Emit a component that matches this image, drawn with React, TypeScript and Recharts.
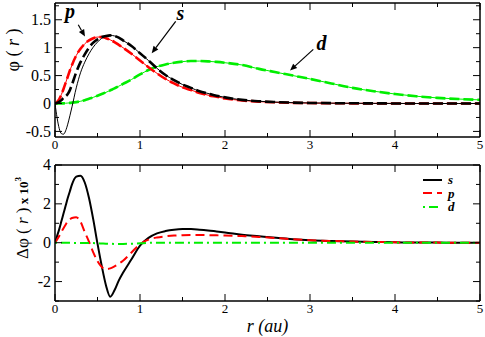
import React from 'react';
import { LineChart, Line, XAxis, YAxis, ReferenceLine, ReferenceDot, Legend } from 'recharts';

// radial grid (au)
const r = [
  0, 0.025, 0.05, 0.075, 0.1, 0.125, 0.15, 0.175, 0.2, 0.25, 0.3, 0.35, 0.4, 0.45, 0.5, 0.55,
  0.6, 0.65, 0.7, 0.75, 0.8, 0.9, 1.0, 1.1, 1.2, 1.3, 1.4, 1.5, 1.6, 1.7, 1.8, 1.9, 2.0, 2.2,
  2.4, 2.6, 2.8, 3.0, 3.25, 3.5, 3.75, 4.0, 4.25, 4.5, 4.75, 5.0,
];

// top panel: phi(r), all-electron (thin) and pseudo (thick dashed)
const sAE = [
  0, -0.26, -0.45, -0.54, -0.55, -0.49, -0.37, -0.22, -0.06, 0.28, 0.55, 0.74, 0.89, 1.01, 1.1, 1.17,
  1.21, 1.22, 1.21, 1.18, 1.13, 1.03, 0.9, 0.77, 0.63, 0.51, 0.42, 0.34, 0.28, 0.22, 0.18, 0.14, 0.11, 0.065,
  0.04, 0.025, 0.015, 0.01, 0.006, 0.004, 0.002, 0.001, 0, 0, 0, 0,
];
const sPS = [
  0, 0.01, 0.03, 0.06, 0.1, 0.13, 0.17, 0.24, 0.34, 0.56, 0.74, 0.88, 1.0, 1.09, 1.15, 1.19,
  1.21, 1.22, 1.21, 1.18, 1.13, 1.03, 0.9, 0.77, 0.63, 0.51, 0.42, 0.34, 0.28, 0.22, 0.18, 0.14, 0.11, 0.065,
  0.04, 0.025, 0.015, 0.01, 0.006, 0.004, 0.002, 0.001, 0, 0, 0, 0,
];
const pAE = [
  0, 0.03, 0.08, 0.16, 0.26, 0.37, 0.48, 0.59, 0.69, 0.86, 0.98, 1.07, 1.13, 1.17, 1.19, 1.19,
  1.17, 1.14, 1.1, 1.05, 1.0, 0.89, 0.77, 0.65, 0.54, 0.44, 0.36, 0.29, 0.24, 0.19, 0.15, 0.12, 0.09, 0.055,
  0.033, 0.02, 0.012, 0.008, 0.005, 0.003, 0.002, 0.001, 0, 0, 0, 0,
];
const pPS = pAE;
const dAE = [
  0, 0, 0.001, 0.002, 0.003, 0.005, 0.008, 0.011, 0.015, 0.025, 0.04, 0.06, 0.085, 0.11, 0.14, 0.17,
  0.2, 0.235, 0.27, 0.31, 0.35, 0.43, 0.52, 0.6, 0.66, 0.7, 0.73, 0.75, 0.76, 0.76, 0.755, 0.745, 0.73, 0.69,
  0.62, 0.56, 0.5, 0.44, 0.36, 0.28, 0.22, 0.17, 0.13, 0.1, 0.08, 0.065,
];
const dPS = dAE;

// bottom panel: delta phi(r) x 10^3
const dS = [
  0, 0.35, 0.7, 1.1, 1.5, 1.9, 2.3, 2.65, 3.0, 3.4, 3.45, 3.1, 2.3, 1.2, -0.05, -1.2,
  -2.2, -2.78, -2.45, -1.95, -1.55, -0.85, -0.15, 0.25, 0.48, 0.6, 0.67, 0.7, 0.7, 0.67, 0.63, 0.58, 0.53, 0.41,
  0.33, 0.25, 0.18, 0.13, 0.09, 0.06, 0.04, 0.02, 0.01, 0.005, 0, 0,
];
const dP = [
  0, 0.17, 0.35, 0.55, 0.75, 0.93, 1.1, 1.2, 1.27, 1.31, 1.08, 0.55, 0.05, -0.5, -0.95, -1.25,
  -1.36, -1.32, -1.22, -1.08, -0.93, -0.5, -0.07, 0.16, 0.27, 0.33, 0.37, 0.39, 0.4, 0.4, 0.39, 0.38, 0.37, 0.34,
  0.3, 0.24, 0.18, 0.13, 0.09, 0.06, 0.04, 0.02, 0.01, 0.005, 0, 0,
];
const dD = [
  0, 0, 0, 0, 0, 0, -0.005, -0.005, -0.01, -0.01, -0.01, -0.01, -0.01, -0.02, -0.03, -0.04,
  -0.05, -0.055, -0.06, -0.06, -0.06, -0.05, -0.03, -0.01, 0, 0, 0, 0, 0, 0, 0, 0, 0, 0,
  0, 0, 0, 0, 0, 0, 0, 0, 0, 0, 0, 0,
];

const legendOrder = ['s', 'p', 'd'];
const xTicks = [0, 0.5, 1, 1.5, 2, 2.5, 3, 3.5, 4, 4.5, 5];
const topYTicks = [-0.5, -0.25, 0, 0.25, 0.5, 0.75, 1, 1.25, 1.5, 1.75];
const botYTicks = [-3, -2, -1, 0, 1, 2, 3, 4];

// arrow annotations in data units
const notes = [
  { label: 'p', at: { x: 0.176, y: 1.54 }, from: { x: 0.274, y: 1.41 }, to: { x: 0.353, y: 1.2 } },
  { label: 's', at: { x: 1.476, y: 1.5 }, from: { x: 1.42, y: 1.47 }, to: { x: 1.138, y: 0.9 } },
  { label: 'd', at: { x: 3.135, y: 0.96 }, from: { x: 3.039, y: 0.97 }, to: { x: 2.765, y: 0.59 } },
];

const topData = r.map((v, i) => ({ r: v, sAE: sAE[i], sPS: sPS[i], pAE: pAE[i], pPS: pPS[i], dAE: dAE[i], dPS: dPS[i] }));
const botData = r.map((v, i) => ({ r: v, s: dS[i], p: dP[i], d: dD[i] }));

const FONT = "'Liberation Serif', 'Times New Roman', serif";
const SERIF = { fontFamily: FONT };
const RED = '#ff0000';
const GREEN = '#00ee00';
const AXIS = { stroke: '#000', strokeWidth: 1.5 };

type Side = 'bottom' | 'top' | 'left' | 'right';

const makeTick = (side: Side, isMajor: (v: number) => boolean, labels: boolean, fontSize: number) => (props: any) => {
  const { x, y, payload } = props;
  const v = payload.value;
  const len = isMajor(v) ? 7 : 4;
  let line;
  let text = null;
  if (side === 'bottom') {
    line = <line x1={x} y1={y} x2={x} y2={y - len} stroke="#000" />;
    if (labels && isMajor(v))
      text = <text x={x} y={y + 12} textAnchor="middle" fontSize={fontSize} style={SERIF}>{v}</text>;
  } else if (side === 'top') {
    line = <line x1={x} y1={y} x2={x} y2={y + len} stroke="#000" />;
  } else if (side === 'left') {
    line = <line x1={x} y1={y} x2={x + len} y2={y} stroke="#000" />;
    if (labels && isMajor(v))
      text = <text x={x - 4} y={y} dy="0.34em" textAnchor="end" fontSize={fontSize} style={SERIF}>{v}</text>;
  } else {
    line = <line x1={x} y1={y} x2={x - len} y2={y} stroke="#000" />;
  }
  return (
    <g fill="#000">
      {line}
      {text}
    </g>
  );
};

const isInt = (v: number) => Math.abs(v - Math.round(v)) < 1e-9;
const isHalf = (v: number) => isInt(v * 2);
const isEven = (v: number) => isInt(v / 2);

const Arrow = (props: any) => {
  const { x1, y1, x2, y2 } = props;
  const a = Math.atan2(y2 - y1, x2 - x1);
  const L = 7;
  const W = 3;
  const bx = x2 - L * Math.cos(a);
  const by = y2 - L * Math.sin(a);
  const px = -Math.sin(a) * W;
  const py = Math.cos(a) * W;
  return (
    <g>
      <line x1={x1} y1={y1} x2={bx} y2={by} stroke="#000" strokeWidth={1.2} />
      <polygon points={`${x2},${y2} ${bx + px},${by + py} ${bx - px},${by - py}`} fill="#000" />
    </g>
  );
};

const TopYTitle = ({ viewBox }: any) => {
  const bx = viewBox.x + 19;
  const cy = viewBox.y + viewBox.height / 2 - 20;
  return (
    <text x={bx} y={cy} transform={`rotate(-90 ${bx} ${cy})`} textAnchor="middle" fontSize={18} style={SERIF}>
      φ ( <tspan fontStyle="italic">r</tspan> )
    </text>
  );
};

const BotYTitle = ({ viewBox }: any) => {
  const bx = viewBox.x + 28;
  const cy = viewBox.y + viewBox.height / 2 - 15;
  return (
    <text x={bx} y={cy} transform={`rotate(-90 ${bx} ${cy})`} textAnchor="middle" fontSize={17} style={SERIF}>
      Δφ ( <tspan fontStyle="italic">r</tspan> )
      <tspan fontSize={13} fontWeight="bold"> x 10</tspan>
      <tspan fontSize={9} fontWeight="bold" dy={-7}>3</tspan>
    </text>
  );
};

const XTitle = ({ viewBox }: any) => (
  <text x={viewBox.x + viewBox.width / 2} y={viewBox.y + 30.5} textAnchor="middle" fontSize={18} fontStyle="italic" style={SERIF}>
    r (au)
  </text>
);

const LegendBox = ({ payload }: any) => {
  const items = [...(payload || [])].sort((a: any, b: any) => legendOrder.indexOf(a.value) - legendOrder.indexOf(b.value));
  return (
    <div style={SERIF}>
      {items.map((e: any) => (
        <div key={e.value} style={{ display: 'flex', alignItems: 'center', height: 13.5 }}>
          <svg width={25} height={6} style={{ display: 'block' }}>
            <line x1={0} y1={3} x2={19} y2={3} stroke={e.color} strokeWidth={2} strokeDasharray={e.payload?.strokeDasharray} />
          </svg>
          <span style={{ fontSize: 13, fontWeight: 'bold', fontStyle: 'italic', lineHeight: '11px' }}>{e.value}</span>
        </div>
      ))}
    </div>
  );
};

export default function App() {
  return (
    <div style={{ position: 'absolute', left: 0, top: 0, width: 485, height: 337, background: '#fff', ...SERIF }}>
      <div style={{ position: 'absolute', left: 0, top: 0 }}>
        <LineChart width={485} height={160} data={topData} margin={{ top: 3, right: 5, bottom: 0, left: 0 }} style={SERIF}>
          <XAxis xAxisId="b" dataKey="r" type="number" domain={[0, 5]} ticks={xTicks} interval={0} allowDataOverflow
            height={23} tickSize={0} tickMargin={0} tickLine={false} axisLine={AXIS} tick={makeTick('bottom', isInt, true, 13)} />
          <XAxis xAxisId="t" orientation="top" mirror dataKey="r" type="number" domain={[0, 5]} ticks={xTicks} interval={0} allowDataOverflow
            tickSize={0} tickMargin={0} tickLine={false} axisLine={AXIS} tick={makeTick('top', isInt, false, 13)} />
          <YAxis yAxisId="l" type="number" domain={[-0.6, 1.8]} ticks={topYTicks} interval={0} allowDataOverflow
            width={55} tickSize={0} tickMargin={0} tickLine={false} axisLine={AXIS} tick={makeTick('left', isHalf, true, 16)} label={<TopYTitle />} />
          <YAxis yAxisId="r" orientation="right" mirror type="number" domain={[-0.6, 1.8]} ticks={topYTicks} interval={0} allowDataOverflow
            tickSize={0} tickMargin={0} tickLine={false} axisLine={AXIS} tick={makeTick('right', isHalf, false, 16)} />
          <Line xAxisId="b" yAxisId="l" type="monotone" dataKey="dAE" stroke={GREEN} strokeWidth={1} dot={false} isAnimationActive={false} />
          <Line xAxisId="b" yAxisId="l" type="monotone" dataKey="dPS" stroke={GREEN} strokeWidth={2.6} strokeDasharray="10 4" dot={false} isAnimationActive={false} />
          <Line xAxisId="b" yAxisId="l" type="monotone" dataKey="pAE" stroke={RED} strokeWidth={1} dot={false} isAnimationActive={false} />
          <Line xAxisId="b" yAxisId="l" type="monotone" dataKey="pPS" stroke={RED} strokeWidth={2.6} strokeDasharray="10 4" dot={false} isAnimationActive={false} />
          <Line xAxisId="b" yAxisId="l" type="monotone" dataKey="sAE" stroke="#000" strokeWidth={1} dot={false} isAnimationActive={false} />
          <Line xAxisId="b" yAxisId="l" type="monotone" dataKey="sPS" stroke="#000" strokeWidth={2.6} strokeDasharray="10 4" dot={false} isAnimationActive={false} />
          {notes.map((n) => (
            <ReferenceLine key={'a' + n.label} xAxisId="b" yAxisId="l" segment={[n.from, n.to]} shape={Arrow} />
          ))}
          {notes.map((n) => (
            <ReferenceDot key={'t' + n.label} xAxisId="b" yAxisId="l" x={n.at.x} y={n.at.y} r={0}
              shape={(p: any) => (
                <text x={p.cx} y={p.cy} textAnchor="middle" fontSize={20} fontWeight="bold" fontStyle="italic" style={SERIF}>{n.label}</text>
              )} />
          ))}
        </LineChart>
      </div>
      <div style={{ position: 'absolute', left: 0, top: 150 }}>
        <LineChart width={485} height={187} data={botData} margin={{ top: 15, right: 5, bottom: 0, left: 0 }} style={SERIF}>
          <XAxis xAxisId="b" dataKey="r" type="number" domain={[0, 5]} ticks={xTicks} interval={0} allowDataOverflow
            height={36} tickSize={0} tickMargin={0} tickLine={false} axisLine={AXIS} tick={makeTick('bottom', isInt, true, 13)} label={<XTitle />} />
          <XAxis xAxisId="t" orientation="top" mirror dataKey="r" type="number" domain={[0, 5]} ticks={xTicks} interval={0} allowDataOverflow
            tickSize={0} tickMargin={0} tickLine={false} axisLine={AXIS} tick={makeTick('top', isInt, false, 13)} />
          <YAxis yAxisId="l" type="number" domain={[-3, 4]} ticks={botYTicks} interval={0} allowDataOverflow
            width={55} tickSize={0} tickMargin={0} tickLine={false} axisLine={AXIS} tick={makeTick('left', isEven, true, 16)} label={<BotYTitle />} />
          <YAxis yAxisId="r" orientation="right" mirror type="number" domain={[-3, 4]} ticks={botYTicks} interval={0} allowDataOverflow
            tickSize={0} tickMargin={0} tickLine={false} axisLine={AXIS} tick={makeTick('right', isEven, false, 16)} />
          <Legend layout="vertical" align="center" verticalAlign="middle" content={<LegendBox />}
            wrapperStyle={{ left: 423, top: 23, width: 60, height: 42 }} />
          <Line xAxisId="b" yAxisId="l" name="s" type="monotone" dataKey="s" stroke="#000" strokeWidth={2} dot={false} isAnimationActive={false} />
          <Line xAxisId="b" yAxisId="l" name="p" type="monotone" dataKey="p" stroke={RED} strokeWidth={2} strokeDasharray="9 5" dot={false} isAnimationActive={false} />
          <Line xAxisId="b" yAxisId="l" name="d" type="monotone" dataKey="d" stroke={GREEN} strokeWidth={2} strokeDasharray="2 4 9 4" dot={false} isAnimationActive={false} />
        </LineChart>
      </div>
    </div>
  );
}
